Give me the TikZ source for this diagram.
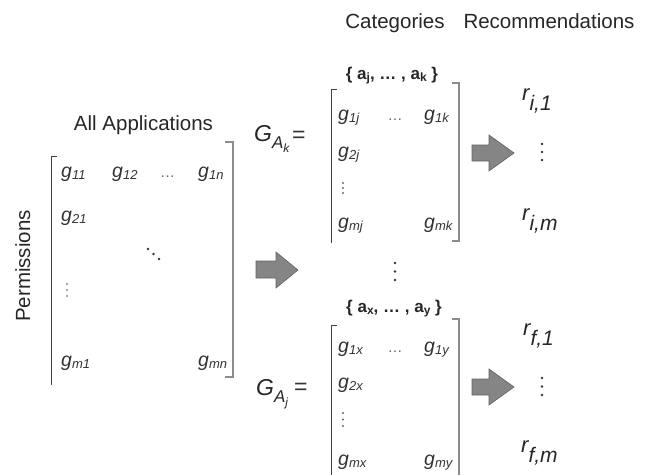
\documentclass[tikz,border=0pt]{standalone}
\usepackage{fontspec}
\setmainfont{Liberation Sans}
\newcommand{\fsz}[1]{\fontsize{#1}{#1}\selectfont}
\newcommand{\gent}[1]{{\itshape g\raisebox{-2.5pt}{\fsz{13}#1}}}
\newcommand{\rlab}[1]{{\itshape\fsz{22}r\raisebox{-10pt}{\fsz{21}#1}}}
\begin{document}
\begin{tikzpicture}[x=1pt,y=-1pt,
  lbl/.style={inner sep=0pt,text=black!85,font=\fsz{20.5}},
  ent/.style={inner sep=0pt,anchor=base west,text=black!80,font=\fsz{19.5}},
  hd/.style={inner sep=0pt,text=black!60,font=\fsz{15}},
  setlbl/.style={inner sep=0pt,anchor=base,text=black!85,font=\bfseries\fsz{17}},
  bigG/.style={inner sep=0pt,anchor=base west,text=black!85,font=\fsz{23}},
  eqsign/.style={inner sep=0pt,anchor=base west,text=black!80,font=\fsz{23}},
  rl/.style={inner sep=0pt,anchor=base west,text=black!85},
  brL/.style={draw=black!75,line width=1pt},
  brR/.style={draw=black!45,line width=1.2pt},
  blockarrow/.style={fill=black!48,draw=black!62,line width=0.6pt,line join=miter},
  dotc/.style={fill=black!80,draw=none}]
\useasboundingbox (0,0) rectangle (650,474);

% header labels
\node[lbl,anchor=base] (cat) at (395,28) {Categories};
\node[lbl,anchor=base] (rec) at (549,28) {Recommendations};
\node[lbl,anchor=base] (allapp) at (143.5,130) {All Applications};
\node[lbl,anchor=base,rotate=90] (perm) at (30,266) {Permissions};

% big matrix brackets
\draw[brL] (57,156) -- (51,156) -- (51,385);
\draw[brR] (225,142) -- (233,142) -- (233,377) -- (225,377);
% big matrix entries
\node[ent] (g11) at (61,177) {\gent{11}};
\node[ent] (g12) at (112,177) {\gent{12}};
\node[hd,anchor=base] (hd1) at (167.5,177) {…};
\node[ent] (g1n) at (198,177) {\gent{1n}};
\node[ent] (g21) at (61,221) {\gent{21}};
\node[ent] (gm1) at (61,366) {\gent{m1}};
\node[ent] (gmn) at (198,366) {\gent{mn}};
\foreach \i in {0,1,2} \fill[dotc] (148+5.5*\i,249+5*\i) circle (1.3);
\foreach \i in {0,1,2} \fill[black!45] (67,284+6*\i) circle (1.1);

% big arrow
\draw[blockarrow] (256,261) -- (276,261) -- (276,252) -- (298,270) -- (276,288) -- (276,278) -- (256,278) -- cycle;

% upper category matrix
\node[setlbl] (setk) at (392,79) {\{ a\raisebox{-2.5pt}{\fsz{12}j}, … , a\raisebox{-2.5pt}{\fsz{12}k} \}};
\node[bigG] (Gk) at (254,141) {\itshape G\raisebox{-7pt}{\fsz{17}A\raisebox{-4pt}{\fsz{12}k}}};
\node[eqsign] (eqk) at (292,142) {=};
\draw[brL] (337,89) -- (331,89) -- (331,243);
\draw[brR] (452,83) -- (459,83) -- (459,241) -- (452,241);
\node[ent] (g1j) at (338,120) {\gent{1j}};
\node[hd,anchor=base] (hd2) at (395,120) {…};
\node[ent] (g1k) at (424,120) {\gent{1k}};
\node[ent] (g2j) at (338,157) {\gent{2j}};
\node[ent] (gmj) at (338,228) {\gent{mj}};
\node[ent] (gmk) at (424,228) {\gent{mk}};
\foreach \i in {0,1,2} \fill[black!60] (343,183+5*\i) circle (1.1);

% upper small arrow
\draw[blockarrow] (472,145) -- (489,145) -- (489,135) -- (514,153) -- (489,171) -- (489,161) -- (472,161) -- cycle;
% upper recommendations
\node[rl] (ri1) at (522,100) {\rlab{i,1}};
\foreach \i in {0,1,2} \fill[dotc] (542,144+8*\i) circle (1.4);
\node[rl] (rim) at (522,220) {\rlab{i,m}};

% middle vdots
\foreach \i in {0,1,2} \fill[dotc] (395,263+8.5*\i) circle (1.4);

% lower category matrix
\node[setlbl] (setx) at (394,312) {\{ a\raisebox{-2.5pt}{\fsz{12}x}, … , a\raisebox{-2.5pt}{\fsz{12}y} \}};
\node[bigG] (Gj) at (256,395) {\itshape G\raisebox{-7pt}{\fsz{17}A\raisebox{-4pt}{\fsz{12}j}}};
\node[eqsign] (eqj) at (294,394) {=};
\draw[brL] (337,325) -- (331,325) -- (331,480);
\draw[brR] (452,319) -- (459,319) -- (459,480);
\node[ent] (g1x) at (338,352) {\gent{1x}};
\node[hd,anchor=base] (hd3) at (395,352) {…};
\node[ent] (g1y) at (424,352) {\gent{1y}};
\node[ent] (g2x) at (338,388) {\gent{2x}};
\node[ent] (gmx) at (338,465) {\gent{mx}};
\node[ent] (gmy) at (424,465) {\gent{my}};
\foreach \i in {0,1,2} \fill[black!60] (343,413+6.5*\i) circle (1.1);

% lower small arrow
\draw[blockarrow] (472,379) -- (489,379) -- (489,369) -- (514,387) -- (489,405) -- (489,395) -- (472,395) -- cycle;
% lower recommendations
\node[rl] (rf1) at (523,335) {\rlab{f,1}};
\foreach \i in {0,1,2} \fill[dotc] (542,378+8.5*\i) circle (1.4);
\node[rl] (rfm) at (521,452) {\rlab{f,m}};
\end{tikzpicture}
\end{document}
